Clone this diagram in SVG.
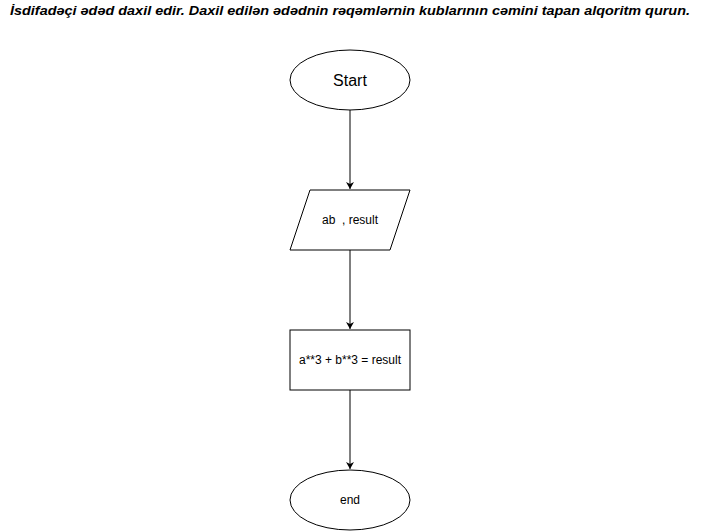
<svg xmlns="http://www.w3.org/2000/svg" width="701" height="531" viewBox="0 0 701 531">
<style>
.shape{fill:#fff;stroke:#000;stroke-width:1}
.lbl{font-family:"Liberation Sans",Arial,sans-serif;fill:#000;text-anchor:middle}
.edge{stroke:#000;stroke-width:1;fill:none}
</style>
<defs>
<marker id="arr" markerWidth="10" markerHeight="10" refX="8" refY="5" orient="auto" markerUnits="userSpaceOnUse">
<path d="M1,1 L8,5 L1,9 L3,5 Z" fill="#000"/>
</marker>
</defs>
<rect width="701" height="531" fill="#fff"/>
<text x="350" y="15" class="lbl" style="font-size:13px;font-weight:bold;font-style:italic" textLength="680" lengthAdjust="spacingAndGlyphs">İsdifadəçi ədəd daxil edir. Daxil edilən ədədnin rəqəmlərnin kublarının cəmini tapan alqoritm qurun.</text>
<g id="connectors">
<line class="edge" x1="350" y1="110" x2="350" y2="189" marker-end="url(#arr)"/>
<line class="edge" x1="350" y1="250" x2="350" y2="329" marker-end="url(#arr)"/>
<line class="edge" x1="350" y1="390" x2="350" y2="469" marker-end="url(#arr)"/>
</g>
<g id="start">
<ellipse class="shape" cx="350" cy="80" rx="60" ry="30"/>
<text x="350" y="86" class="lbl" style="font-size:16px">Start</text>
</g>
<g id="input">
<polygon class="shape" points="310,190 410,190 390,250 290,250"/>
<text x="350" y="224" class="lbl" style="font-size:12px" xml:space="preserve">ab  , result</text>
</g>
<g id="process">
<rect class="shape" x="290" y="330" width="120" height="60"/>
<text x="350" y="364" class="lbl" style="font-size:12px">a**3 + b**3 = result</text>
</g>
<g id="end">
<ellipse class="shape" cx="350" cy="500" rx="60" ry="30"/>
<text x="350" y="504" class="lbl" style="font-size:12px">end</text>
</g>
</svg>
